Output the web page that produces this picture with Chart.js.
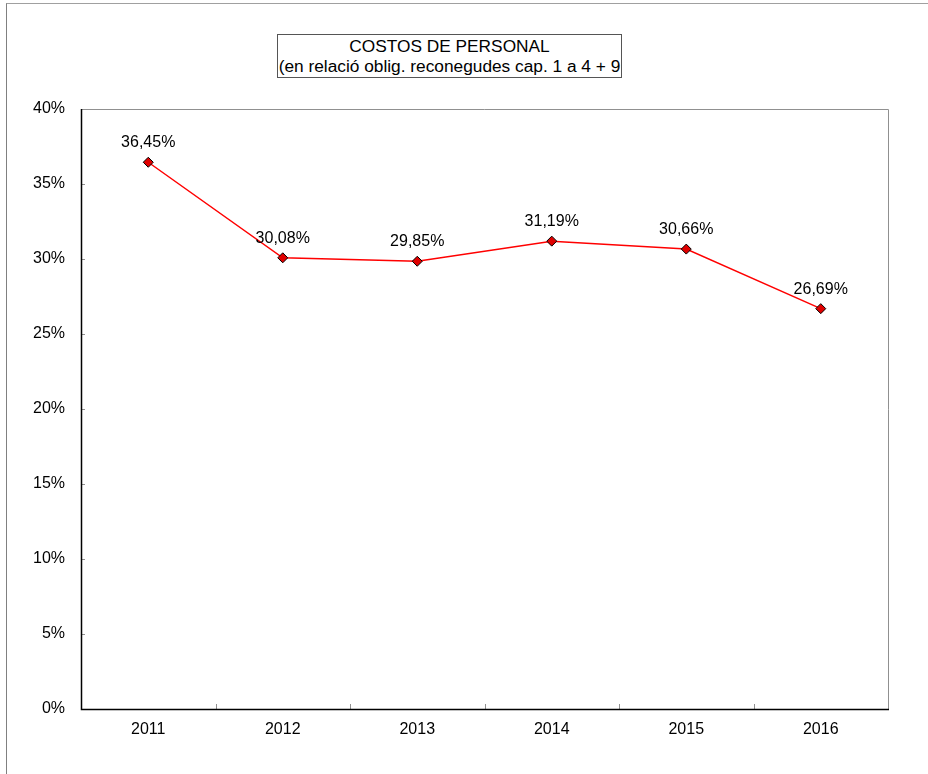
<!DOCTYPE html>
<html>
<head>
<meta charset="utf-8">
<script src="https://cdn.jsdelivr.net/npm/chart.js@4/dist/chart.umd.min.js"></script>
<style>
  html, body { margin:0; padding:0; background:#fff; }
  #wrap { position:relative; width:928px; height:774px; overflow:hidden; }
  #frame { position:absolute; left:6px; top:3px; width:930px; height:780px; border-left:1px solid #808080; border-top:1px solid #a0a0a0; }
  #titlebox { position:absolute; left:277px; top:34px; width:345px; height:44px; border:1px solid #555; background:#fff;
    font-family:"Liberation Sans", Arial, sans-serif; font-size:17.3px; line-height:20px; text-align:center; color:#000; padding-top:1px; box-sizing:border-box; white-space:nowrap; }
  canvas { position:absolute; left:0; top:0; }
</style>
</head>
<body>
<div id="wrap">
  <div id="frame"></div>
  <canvas id="c" width="928" height="774"></canvas>
  <div id="titlebox">COSTOS DE PERSONAL<br>(en relació oblig. reconegudes cap. 1 a 4 + 9</div>
</div>
<script>
const years = ["2011", "2012", "2013", "2014", "2015", "2016"];
const costPct = [36.45, 30.08, 29.85, 31.19, 30.66, 26.69];
const yTicks = [0, 5, 10, 15, 20, 25, 30, 35, 40];

const fontFam = '"Liberation Sans", Arial, sans-serif';

const decorPlugin = {
  id: 'decor',
  afterDraw(chart) {
    const ctx = chart.ctx, a = chart.chartArea;
    const x = chart.scales.x, y = chart.scales.y;
    ctx.save();
    ctx.strokeStyle = '#909090';
    ctx.lineWidth = 1;
    ctx.beginPath();
    ctx.moveTo(a.left, a.top + 0.5); ctx.lineTo(a.right + 0.5, a.top + 0.5); ctx.lineTo(a.right + 0.5, a.bottom);
    ctx.stroke();
    ctx.beginPath();
    yTicks.forEach(v => {
      const py = Math.round(y.getPixelForValue(v)) + 0.5;
      ctx.moveTo(a.left, py); ctx.lineTo(a.left + 4, py);
    });
    ctx.stroke();
    ctx.beginPath();
    for (let i = 1; i < years.length; i++) {
      const px = Math.round((x.getPixelForValue(i - 1) + x.getPixelForValue(i)) / 2) + 0.5;
      ctx.moveTo(px, a.bottom); ctx.lineTo(px, a.bottom - 5);
    }
    ctx.stroke();
    ctx.strokeStyle = '#000';
    ctx.lineWidth = 1.5;
    ctx.beginPath();
    ctx.moveTo(a.left + 0.5, a.top); ctx.lineTo(a.left + 0.5, a.bottom + 0.5); ctx.lineTo(a.right + 1, a.bottom + 0.5);
    ctx.stroke();
    const meta = chart.getDatasetMeta(0);
    ctx.fillStyle = '#000';
    ctx.font = '16px ' + fontFam;
    ctx.textAlign = 'center';
    ctx.textBaseline = 'alphabetic';
    meta.data.forEach((pt, i) => {
      const txt = costPct[i].toFixed(2).replace('.', ',') + '%';
      ctx.fillText(txt, pt.x, pt.y - 15);
    });
    ctx.restore();
  }
};

new Chart(document.getElementById('c'), {
  type: 'line',
  data: {
    labels: years,
    datasets: [{
      data: costPct,
      borderColor: '#ff0000',
      borderWidth: 1.5,
      backgroundColor: '#e00000',
      pointStyle: 'rectRot',
      pointRadius: 5,
      pointHoverRadius: 5,
      pointBackgroundColor: '#e00000',
      pointBorderColor: '#000',
      pointBorderWidth: 1,
      tension: 0
    }]
  },
  options: {
    responsive: false,
    animation: false,
    events: [],
    layout: { padding: { left: 0, top: 109, right: 40, bottom: 0 } },
    plugins: { legend: { display: false }, tooltip: { enabled: false }, title: { display: false } },
    scales: {
      x: {
        offset: true,
        grid: { display: false, drawTicks: false },
        border: { display: false },
        ticks: { color: '#000', font: { family: fontFam, size: 16 }, padding: 11, maxRotation: 0 },
        afterFit(s) { s.height = 65; }
      },
      y: {
        min: 0, max: 40,
        grid: { display: false, drawTicks: false },
        border: { display: false },
        ticks: {
          stepSize: 5, color: '#000', font: { family: fontFam, size: 16 }, padding: 16,
          callback: v => v + '%'
        },
        afterFit(s) { s.width = 81; }
      }
    }
  },
  plugins: [decorPlugin]
});
</script>
</body>
</html>
